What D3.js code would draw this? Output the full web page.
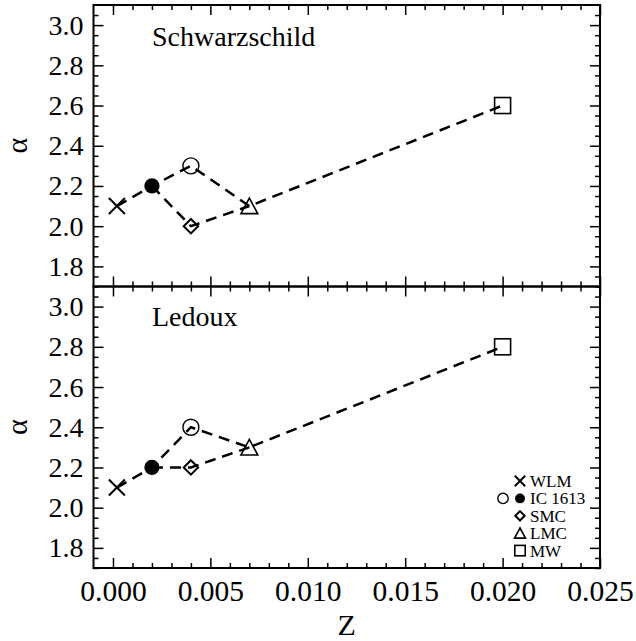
<!DOCTYPE html>
<html lang="en">
<head>
  <meta charset="UTF-8">
  <title>alpha vs Z</title>
  <style>
    body { margin: 0; background: #fff; }
    svg { display: block; font-family: "Liberation Serif", "Times New Roman", serif; }
    .tick line { stroke: #000; stroke-width: 1.5px; }
    .frame { fill: none; stroke: #000; stroke-width: 2px; }
    .link { fill: none; stroke: #000; stroke-width: 2.5px; stroke-dasharray: 11 7; }
  </style>
</head>
<body>
  <svg width="636" height="641"></svg>

  <script src="https://d3js.org/d3.v7.min.js"></script>
  <script>
    // data
    const names = ["WLM", "IC 1613", "IC 1613 (open)", "SMC", "LMC", "MW"];
    const zVals = [0.0002, 0.002, 0.004, 0.004, 0.007, 0.020];
    const alphaSchwarzschild = [2.1, 2.2, 2.3, 2.0, 2.1, 2.6];
    const alphaLedoux = [2.1, 2.2, 2.4, 2.2, 2.3, 2.8];
    const symbols = ["cross", "filled", "circle", "diamond", "triangle", "square"];
    const paths = [[0, 1, 2, 4, 5], [1, 3, 4]];

    const xTicks = [0.000, 0.005, 0.010, 0.015, 0.020, 0.025];
    const yTicks = [1.8, 2.0, 2.2, 2.4, 2.6, 2.8, 3.0];

    const legendRows = [
      { syms: ["cross"], label: "WLM" },
      { syms: ["circle", "filled"], label: "IC 1613" },
      { syms: ["diamond"], label: "SMC" },
      { syms: ["triangle"], label: "LMC" },
      { syms: ["square"], label: "MW" }
    ];

    const serif = '"Liberation Serif", "Times New Roman", serif';
    const marginLeft = 93.5, marginRight = 600, marginTop = 5, panelH = 281.5;
    const width = marginRight - marginLeft;

    const svg = d3.select("svg");

    const x = d3.scaleLinear().domain([-0.001, 0.025]).range([0, width]);
    const y = d3.scaleLinear().domain([1.7, 3.1]).range([panelH, 0]);

    const xMinor = d3.range(0, 26).map(i => i * 0.001).filter((v, i) => i % 5 !== 0);
    const yMinor = d3.range(34, 62).map(i => i * 0.05).filter((v, i) => (i + 34) % 4 !== 0);

    function marker(g, sym, cx, cy, s) {
      if (sym === "cross") {
        g.append("path").attr("d", `M${cx - s},${cy - s}L${cx + s},${cy + s}M${cx - s},${cy + s}L${cx + s},${cy - s}`)
          .attr("stroke", "#000").attr("stroke-width", 2).attr("fill", "none");
      } else if (sym === "filled") {
        g.append("circle").attr("cx", cx).attr("cy", cy).attr("r", s * 0.95).attr("fill", "#000");
      } else if (sym === "circle") {
        g.append("circle").attr("cx", cx).attr("cy", cy).attr("r", s)
          .attr("fill", "none").attr("stroke", "#000").attr("stroke-width", 1.4);
      } else if (sym === "diamond") {
        const d = s * 0.9;
        g.append("path").attr("d", `M${cx},${cy - d}L${cx + d},${cy}L${cx},${cy + d}L${cx - d},${cy}Z`)
          .attr("fill", "none").attr("stroke", "#000").attr("stroke-width", 2);
      } else if (sym === "triangle") {
        g.append("path").attr("d", `M${cx},${cy - s}L${cx + s * 1.05},${cy + s * 0.95}L${cx - s * 1.05},${cy + s * 0.95}Z`)
          .attr("fill", "none").attr("stroke", "#000").attr("stroke-width", 1.6);
      } else if (sym === "square") {
        g.append("rect").attr("x", cx - s).attr("y", cy - s).attr("width", 2 * s).attr("height", 2 * s)
          .attr("fill", "none").attr("stroke", "#000").attr("stroke-width", 1.6);
      }
    }

    function drawPanel(offsetY, alphas, title, titleY, lastPanel) {
      const g = svg.append("g").attr("transform", `translate(${marginLeft},${offsetY})`);

      // ticks on all four sides, pointing inward
      const axes = [
        { gen: () => d3.axisLeft(y), vals: yTicks, minor: yMinor, tr: null, fmt: d3.format(".1f"), pad: 10, fs: 28 },
        { gen: () => d3.axisRight(y), vals: yTicks, minor: yMinor, tr: `translate(${width},0)`, fmt: null, pad: 10, fs: 28 },
        { gen: () => d3.axisTop(x), vals: xTicks, minor: xMinor, tr: null, fmt: null, pad: 10, fs: 28 },
        { gen: () => d3.axisBottom(x), vals: xTicks, minor: xMinor, tr: `translate(0,${panelH})`,
          fmt: lastPanel ? d3.format(".3f") : null, pad: 12, fs: 29.5 }
      ];
      axes.forEach(a => {
        const major = g.append("g").attr("transform", a.tr)
          .call(a.gen().tickValues(a.vals).tickSizeInner(-10).tickSizeOuter(0).tickPadding(a.pad)
            .tickFormat(a.fmt || (() => "")))
          .attr("font-family", serif).attr("font-size", a.fs);
        major.select(".domain").remove();
        major.selectAll("text").attr("fill", "#000");
        const minor = g.append("g").attr("transform", a.tr)
          .call(a.gen().tickValues(a.minor).tickSizeInner(-5).tickSizeOuter(0).tickFormat(() => ""));
        minor.select(".domain").remove();
      });

      g.append("rect").attr("class", "frame").attr("width", width).attr("height", panelH);

      // dashed connecting lines
      const line = d3.line().x(i => x(zVals[i])).y(i => y(alphas[i]));
      g.selectAll(".link").data(paths).join("path").attr("class", "link").attr("d", line);

      zVals.forEach((z, i) => marker(g, symbols[i], x(z), y(alphas[i]), 8));

      g.append("text").attr("x", 152 - marginLeft).attr("y", titleY - offsetY)
        .attr("font-size", 28).text(title);

      svg.append("text")
        .attr("transform", `translate(27,${offsetY + panelH / 2}) rotate(-90)`)
        .attr("text-anchor", "middle").attr("font-size", 30).text("α");

      return g;
    }

    drawPanel(marginTop, alphaSchwarzschild, "Schwarzschild", 46, false);
    drawPanel(marginTop + panelH, alphaLedoux, "Ledoux", 326, true);

    svg.append("text").attr("x", marginLeft + width / 2).attr("y", 635)
      .attr("text-anchor", "middle").attr("font-size", 30).text("Z");

    // legend
    const leg = svg.append("g");
    legendRows.forEach((row, i) => {
      const cy = 481 + i * 17.4;
      row.syms.forEach((s, j) => {
        const cx = 520 - (row.syms.length - 1 - j) * 17;
        marker(leg, s, cx, cy, 5.2);
      });
      leg.append("text").attr("x", 530).attr("y", cy).attr("dy", "0.35em")
        .attr("font-size", 17).text(row.label);
    });
  </script>
</body>
</html>
